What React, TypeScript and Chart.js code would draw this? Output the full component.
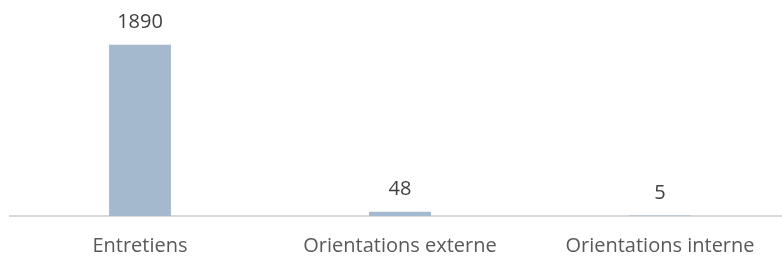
import React, { useEffect, useRef } from "react";
import { Chart, registerables } from "chart.js";

Chart.register(...registerables);

const categories = ["Entretiens", "Orientations externe", "Orientations interne"];
const values = [1890, 48, 5];

const FONT = "'Open Sans', 'Noto Sans', sans-serif";

const valueLabels = {
  id: "valueLabels",
  afterDatasetsDraw(chart: any) {
    const ctx = chart.ctx;
    const meta = chart.getDatasetMeta(0);
    ctx.save();
    ctx.font = `20px ${FONT}`;
    ctx.fillStyle = "#404040";
    ctx.textAlign = "center";
    ctx.textBaseline = "alphabetic";
    meta.data.forEach((bar: any, i: number) => {
      ctx.fillText(String(values[i]), bar.x, bar.y - 17);
    });
    ctx.restore();
  },
};

export default function App() {
  const ref = useRef<HTMLCanvasElement>(null);
  useEffect(() => {
    document.body.style.margin = "0";
    const chart = new Chart(ref.current!, {
      type: "bar",
      data: {
        labels: categories,
        datasets: [
          {
            data: values,
            backgroundColor: "#a4b9cd",
            barPercentage: 0.238,
            categoryPercentage: 1,
          },
        ],
      },
      options: {
        responsive: false,
        animation: false,
        layout: { padding: { left: 10, right: 0, top: 0, bottom: 2 } },
        plugins: { legend: { display: false }, tooltip: { enabled: false } },
        scales: {
          x: {
            grid: { display: false, drawTicks: false },
            border: { color: "#d9d9d9", width: 2 },
            ticks: {
              color: "#595959",
              font: { family: FONT, size: 20, lineHeight: 1 },
              padding: 20,
              maxRotation: 0,
              autoSkip: false,
            },
          },
          y: { display: false, min: 0, max: 2385 },
        },
      },
      plugins: [valueLabels],
    });
    return () => chart.destroy();
  }, []);
  return (
    <div style={{ width: 782, height: 278, overflow: "hidden", background: "#fff" }}>
      <canvas ref={ref} width={790} height={278} />
    </div>
  );
}
